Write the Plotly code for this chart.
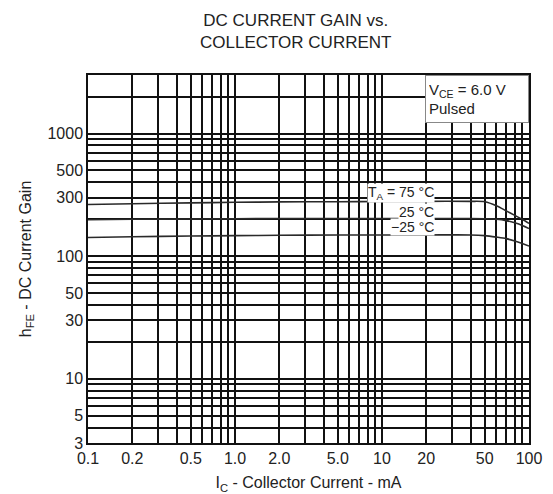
import math
import plotly.graph_objects as go

# ---- data ----
ic_ma = [0.1, 0.2, 0.5, 1.0, 2.0, 5.0, 10, 20, 40, 50, 60, 70, 80, 90, 100]
hfe_75c = [264, 268, 272, 275, 277, 278, 279, 280, 280, 278, 258, 234, 215, 200, 185]
hfe_25c = [198, 200, 201, 202, 203, 203, 203, 203, 203, 202, 200, 195, 187, 178, 168]
hfe_m25c = [142, 144, 146, 147, 148, 149, 149, 149, 149, 147, 143, 139, 133, 127, 121]

series_names = ["T<sub>A</sub> = 75 °C", "25 °C", "−25 °C"]

x_grid_vals = [0.1, 0.2, 0.3, 0.4, 0.5, 0.6, 0.7, 0.8, 0.9,
               1, 2, 3, 4, 5, 6, 7, 8, 9,
               10, 20, 30, 40, 50, 60, 70, 80, 90, 100]
x_tick_text = ["0.1", "0.2", "", "", "0.5", "", "", "", "",
               "1.0", "2.0", "", "", "5.0", "", "", "", "",
               "10", "20", "", "", "50", "", "", "", "", "100"]

y_grid_vals = [3, 4, 5, 6, 7, 8, 9,
               10, 20, 30, 40, 50, 60, 70, 80, 90,
               100, 200, 300, 400, 500, 600, 700, 800, 900,
               1000, 2000, 3000]
y_tick_text = ["3", "", "5", "", "", "", "",
               "10", "", "30", "", "50", "", "", "", "",
               "100", "", "300", "", "500", "", "", "", "",
               "1000", "", ""]

FONT = "Liberation Sans, Arial, sans-serif"
TXT = "#222222"
LINE = "#2a2a2a"
GRID = "#111111"

fig = go.Figure()
for ys in (hfe_75c, hfe_25c, hfe_m25c):
    fig.add_trace(go.Scatter(x=ic_ma, y=ys, mode="lines",
                             line=dict(color=LINE, width=1.6, shape="spline", smoothing=0.8),
                             showlegend=False, hoverinfo="skip"))

# curve labels (positions in log10 units for log axes)
label_pos = [(math.log10(23), math.log10(327)),
             (math.log10(23), math.log10(230)),
             (math.log10(23), math.log10(174))]
for name, (lx, ly) in zip(series_names, label_pos):
    fig.add_annotation(x=lx, y=ly, xref="x", yref="y", text=name, showarrow=False,
                       xanchor="right", yanchor="middle", bgcolor="white", borderpad=0,
                       font=dict(family=FONT, size=14, color=TXT))

# condition box
fig.add_annotation(x=1, y=1, xref="paper", yref="paper", xanchor="right", yanchor="top",
                   text="V<sub>CE</sub> = 6.0 V<br>Pulsed", showarrow=False, align="left",
                   bgcolor="white", bordercolor="#888888", borderwidth=1, borderpad=3,
                   width=96, height=40, font=dict(family=FONT, size=15, color=TXT))

# title
fig.add_annotation(x=0.47, y=1.178, xref="paper", yref="paper", xanchor="center",
                   yanchor="top", showarrow=False,
                   text="DC CURRENT GAIN vs.<br>COLLECTOR CURRENT",
                   font=dict(family=FONT, size=17, color=TXT))

fig.update_layout(
    width=553, height=494,
    margin=dict(l=80, r=32, t=67, b=59, autoexpand=False),
    paper_bgcolor="white", plot_bgcolor="white",
    font=dict(family=FONT, size=16, color=TXT),
    xaxis=dict(type="log", range=[-1, 2], tickmode="array", tickvals=x_grid_vals,
               ticktext=x_tick_text, showgrid=True, gridcolor=GRID, gridwidth=1.5,
               showline=True, linecolor=GRID, linewidth=1.5, mirror=True, ticks="",
               zeroline=False, automargin=False,
               tickfont=dict(family=FONT, size=16, color=TXT),
               title=dict(text="I<sub>C</sub> - Collector Current - mA", standoff=11,
                          font=dict(family=FONT, size=16, color=TXT))),
    yaxis=dict(type="log", range=[math.log10(3), math.log10(3000)], tickmode="array",
               tickvals=y_grid_vals, ticktext=y_tick_text, showgrid=True, gridcolor=GRID,
               gridwidth=1.5, showline=True, linecolor=GRID, linewidth=1.5, mirror=True,
               ticks="", zeroline=False, automargin=False,
               tickfont=dict(family=FONT, size=16, color=TXT),
               title=dict(text="h<sub>FE</sub> - DC Current Gain", standoff=12,
                          font=dict(family=FONT, size=16, color=TXT))),
)

fig.write_html("out.html")
